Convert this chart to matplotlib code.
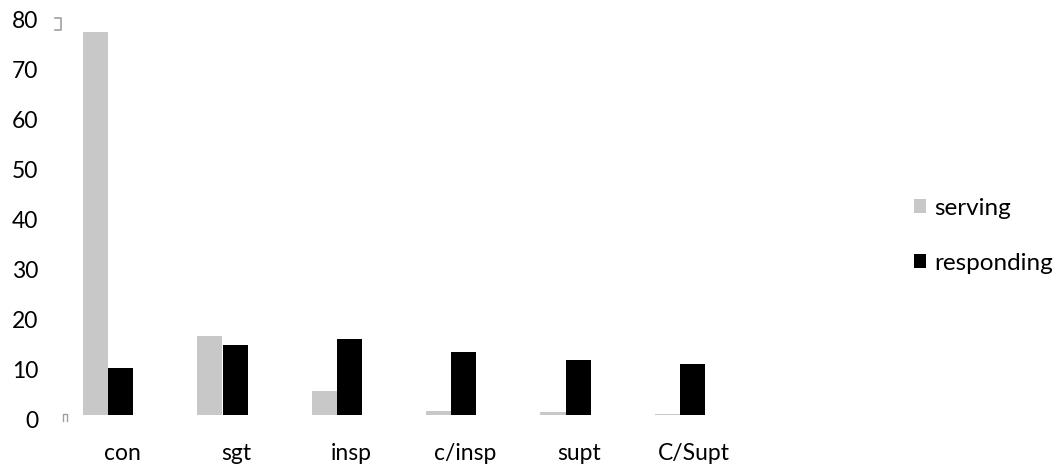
import matplotlib.pyplot as plt
import matplotlib.transforms as mtransforms
import numpy as np
from matplotlib.lines import Line2D

plt.rcParams["font.family"] = ["Lato", "DejaVu Sans"]

# data
categories = ["con", "sgt", "insp", "c/insp", "supt", "C/Supt"]
serving = [76.6, 15.8, 4.8, 0.8, 0.6, 0.2]
responding = [9.4, 14.0, 15.2, 12.6, 11.0, 10.2]

fig = plt.figure(figsize=(10.63, 4.65), dpi=100)
ax = fig.add_axes([51 / 1063, 50 / 465, 686 / 1063, 400 / 465])

x = np.arange(len(categories))
w = 0.22
ax.bar(x - w / 2, serving, w, color="#c8c8c8", label="serving")
ax.bar(x + w / 2, responding, w, color="black", label="responding")

ax.set_xlim(-0.5, len(categories) - 0.5)
ax.set_ylim(0, 80)
ax.set_yticks(range(0, 81, 10))
ax.set_xticks(x)
ax.set_xticklabels(categories)
for s in ax.spines.values():
    s.set_visible(False)
ax.tick_params(axis="both", length=0, labelsize=16.5, colors="black")
ax.tick_params(axis="y", pad=9)
ax.tick_params(axis="x", pad=20)

# labels in the original sit a little below / right of their ticks
dy = mtransforms.ScaledTranslation(0, -4 / 100, fig.dpi_scale_trans)
for t in ax.get_yticklabels():
    t.set_transform(t.get_transform() + dy)
dx = mtransforms.ScaledTranslation(14 / 100, 0, fig.dpi_scale_trans)
for t in ax.get_xticklabels():
    t.set_transform(t.get_transform() + dx)

# little plot-area handles seen in the original
gray = "#a0a0a0"
fig.add_artist(Line2D([55 / 1063, 61 / 1063, 61 / 1063, 55 / 1063],
                      [1 - 18 / 465, 1 - 18 / 465, 1 - 30 / 465, 1 - 30 / 465],
                      color=gray, lw=1.2))
fig.add_artist(Line2D([63 / 1063, 63 / 1063, 67 / 1063, 67 / 1063],
                      [1 - 421 / 465, 1 - 414 / 465, 1 - 414 / 465, 1 - 421 / 465],
                      color=gray, lw=1))

ax.legend(loc="center left", bbox_to_anchor=(914 / 1063, 1 - 236 / 465),
          bbox_transform=fig.transFigure, frameon=False, fontsize=17.5,
          handlelength=0.5, handleheight=0.5, handletextpad=0.35,
          labelspacing=1.4, borderaxespad=0, borderpad=0)

fig.savefig("out.png", dpi=100)
